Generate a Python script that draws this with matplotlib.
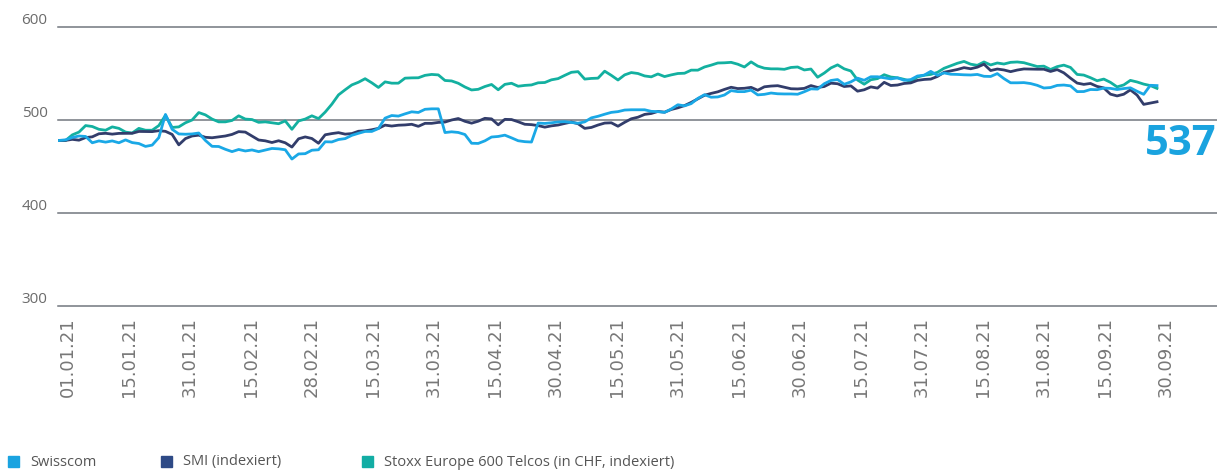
import numpy as np
import matplotlib
matplotlib.use("Agg")
import matplotlib.pyplot as plt
from matplotlib.patches import Rectangle

plt.rcParams['font.family'] = ['Open Sans', 'DejaVu Sans']

# --- data (indexed)

date_labels = ['01.01.21', '15.01.21', '31.01.21', '15.02.21', '28.02.21',
               '15.03.21', '31.03.21', '15.04.21', '30.04.21', '15.05.21',
               '31.05.21', '15.06.21', '30.06.21', '15.07.21', '31.07.21',
               '15.08.21', '31.08.21', '15.09.21', '30.09.21']

swisscom = [
    478, 478.7, 481.2, 482.8, 482.3, 475.5, 477.5, 476.2, 477.5, 475.5,
    478.6, 475.7, 474.7, 471.6, 473, 481, 506, 490, 485, 484.7,
    485, 486, 478, 471.7, 471.5, 468.5, 466, 468.3, 466.7, 467.8,
    466, 467.7, 469.4, 469, 468, 458, 463.5, 463.8, 467.5, 468,
    476.6, 476.4, 479, 480, 483.5, 485.7, 487.7, 487.7, 490.8, 502,
    504.8, 504.2, 506.6, 508.8, 508.1, 511.5, 512, 512, 486.5, 487.3,
    486.6, 484.4, 475, 474.8, 477.6, 481.7, 482.3, 483.7, 480.8, 477.7,
    476.7, 476.3, 496.7, 496.3, 497, 497.9, 498.2, 497.3, 496.5, 498,
    502.3, 504, 506.2, 508.2, 509, 510.7, 511, 511, 511, 509.3,
    509, 508.2, 511.8, 516.4, 515.2, 517.6, 523.2, 527.2, 524.5, 524.8,
    526.9, 531.6, 530.5, 530.5, 532.1, 527, 527.6, 529, 528.2, 528,
    528, 527.7, 530.4, 533.5, 533.2, 539, 542.5, 543.5, 538.4, 541,
    545, 542.7, 546.5, 546.5, 545.4, 544.2, 545.3, 542.7, 543.5, 547.3,
    548.2, 552.3, 548, 550.6, 549.2, 549, 548.6, 548.4, 549, 547,
    546.8, 549.9, 544.5, 540, 540, 540.2, 539.2, 537.3, 534.4, 534.9,
    537.2, 537.6, 536.7, 530.5, 530.6, 532.8, 532.6, 534.3, 534, 532.8,
    533.8, 534.6, 530.9, 527.6, 537.3, 537,
]

smi = [
    478, 478.1, 479.2, 478.3, 481.1, 481.9, 485.2, 485.7, 484.8, 485.6,
    485.7, 485.7, 487.7, 487.6, 487.5, 488.5, 487.8, 484.5, 473.3, 480,
    482.8, 483.7, 481.4, 480.9, 481.8, 482.8, 484.5, 487.5, 487, 482.7,
    478.5, 477.6, 475.8, 477.7, 475.5, 470.9, 479.8, 481.8, 480.1, 475,
    484.1, 485.4, 486.4, 484.8, 485.4, 487.9, 488.4, 489.5, 491, 494.5,
    493.5, 494.4, 494.7, 495.4, 493.2, 496.4, 496.4, 497.4, 497.8, 500,
    501.6, 498.6, 496.6, 498.7, 501.8, 501.2, 494.8, 500.7, 500.5, 498.1,
    495.4, 495, 494, 492.3, 493.7, 494.6, 496.3, 497.8, 496, 491,
    492, 494.6, 496.7, 497, 493.3, 497.5, 501.3, 503, 506, 507,
    509.2, 508.4, 511.3, 513.1, 515.5, 518.9, 522.7, 526.6, 528.6, 530.3,
    532.9, 535.2, 533.8, 534.1, 535.1, 532, 535.7, 536.5, 536.9, 535.3,
    533.6, 533.4, 534, 537, 535, 536, 539.6, 539, 536, 536.7,
    531, 532.5, 535.6, 534.3, 540.5, 537.1, 537.6, 539.3, 539.9, 542.6,
    543.6, 544, 546.8, 551.3, 552.8, 554.3, 556.3, 555.1, 556.8, 560,
    553.2, 554.8, 553.8, 552, 553.7, 554.9, 554.7, 554.6, 554.6, 552.2,
    554.2, 550.7, 545, 539.7, 538.3, 539.3, 536.1, 534.5, 527.8, 525.9,
    527.7, 532.4, 526.8, 516.8, 518.2, 519.6,
]

stoxx = [
    478, 478, 484, 487, 494, 493, 490, 489, 492.6, 491,
    487, 486, 491, 489, 489, 494, 505, 492, 492.6, 497,
    500, 508, 505.5, 501, 498, 498, 499.5, 504.5, 501, 500.5,
    497.5, 498, 497, 496, 499, 490, 499, 501, 504.5, 501.5,
    508.5, 517, 527, 532.5, 537.7, 540.6, 544.4, 540, 535, 541,
    539.6, 539.6, 545, 545.3, 545.4, 548, 549, 548.5, 542.5, 542,
    539.5, 535.5, 532.3, 533, 536, 538.2, 532.5, 538.3, 539.5, 536.3,
    537.2, 537.7, 540, 540.3, 543.2, 544.5, 548, 551.3, 552, 544,
    544.7, 545, 552.5, 548, 543, 548.5, 551, 550, 547.4, 546.4,
    549.5, 546.7, 548.5, 550, 550.3, 553.6, 553.6, 557, 559, 561.3,
    561.5, 562, 560, 557, 562.5, 558, 555.7, 555, 555, 554.5,
    556.5, 557, 553.8, 554.8, 546, 550.5, 556, 559.3, 555, 552.7,
    543, 538.5, 543.3, 544.5, 548.7, 546.2, 545.4, 543.7, 541.5, 546.3,
    548.1, 549, 551.2, 555.6, 558.3, 561, 563, 560, 558.8, 562.4,
    559.2, 561.3, 560.2, 562, 562.4, 561.6, 559.5, 557.5, 557.9, 554.3,
    557.4, 559, 556.5, 549, 548.3, 545.5, 542.2, 544, 540.5, 535.6,
    537.7, 542.6, 540.9, 538.6, 537, 534,
]

series_names = ['Swisscom', 'SMI (indexiert)', 'Stoxx Europe 600 Telcos (in CHF, indexiert)']
line_colors = ['#1aa8e6', '#323d6b', '#13b0a0']
legend_colors = ['#1aa3e0', '#2e4a86', '#12ada4']
y_ticks = [300, 400, 500, 600]
last_value = '537'

# --- plot

W, H = 1217, 471
fig = plt.figure(figsize=(W / 100, H / 100), dpi=100)
ax = fig.add_axes([58 / W, 1 - 306 / H, (W - 58) / W, (306 - 27) / H])

x = np.linspace(0, len(date_labels) - 1, len(swisscom))

for v in y_ticks:
    ax.axhline(v, color='#72767e', lw=1.1, zorder=1, clip_on=False)

ax.plot(x, stoxx, color=line_colors[2], lw=2.0, zorder=3)
ax.plot(x, smi, color=line_colors[1], lw=2.0, zorder=4)
ax.plot(x, swisscom, color=line_colors[0], lw=2.0, zorder=5)

ax.set_ylim(300, 600)
ax.set_xlim(-1 / 61, (W - 59) / 61)
for s in ax.spines.values():
    s.set_visible(False)

ax.set_yticks([])
tr = ax.get_yaxis_transform()
for v in y_ticks:
    ax.text(-0.009, v + 7.5, str(v), transform=tr, ha='right', va='center',
            fontsize=11, color='#6b6b6b')

ax.set_xticks(range(len(date_labels)))
ax.set_xticklabels(date_labels, rotation=90, ha='left', va='top',
                   fontsize=13, color='#777777', family='DejaVu Sans')
ax.tick_params(axis='x', length=0, pad=8)

# final value
ax.text(1.0, 1 - 124 / H, last_value, transform=fig.transFigure,
        ha='right', va='top', fontsize=30, fontweight='bold',
        color='#1aa3df')

# legend
text_x = [30, 183, 384]
for name, c, tx in zip(series_names, legend_colors, text_x):
    fig.patches.append(Rectangle(((tx - 22) / W, 1 - 467 / H), 11 / W, 11 / H,
                                 transform=fig.transFigure, color=c))
    fig.text(tx / W, 1 - 462 / H, name, ha='left', va='center',
             fontsize=10.5, color='#555555')

fig.savefig('out.png', dpi=100)
